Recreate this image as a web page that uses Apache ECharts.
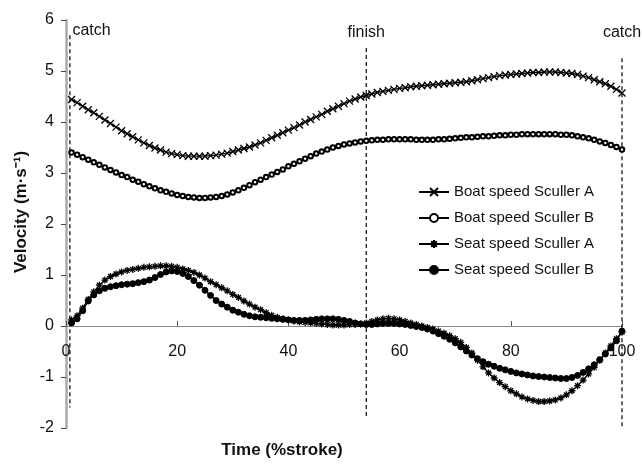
<!DOCTYPE html>
<html>
<head>
<meta charset="utf-8">
<script src="https://cdn.jsdelivr.net/npm/echarts@6/dist/echarts.min.js"></script>
<style>
  html, body { margin: 0; padding: 0; background: #fff; }
  #chart { width: 642px; height: 464px; }
</style>
</head>
<body>
<div id="chart"></div>
<script>
// % of stroke
const stroke = [
  1, 2, 3, 4, 5, 6, 7, 8, 9, 10, 11, 12, 13, 14, 15, 16, 17, 18, 19, 20,
  21, 22, 23, 24, 25, 26, 27, 28, 29, 30, 31, 32, 33, 34, 35, 36, 37, 38, 39, 40,
  41, 42, 43, 44, 45, 46, 47, 48, 49, 50, 51, 52, 53, 54, 55, 56, 57, 58, 59, 60,
  61, 62, 63, 64, 65, 66, 67, 68, 69, 70, 71, 72, 73, 74, 75, 76, 77, 78, 79, 80,
  81, 82, 83, 84, 85, 86, 87, 88, 89, 90, 91, 92, 93, 94, 95, 96, 97, 98, 99, 100
]

const boatA = [
  4.44, 4.38, 4.31, 4.24, 4.18, 4.11, 4.04, 3.97, 3.90, 3.83, 3.77, 3.71, 3.65, 3.59, 3.54, 3.49, 3.45, 3.41, 3.38, 3.36,
  3.34, 3.33, 3.33, 3.33, 3.33, 3.34, 3.35, 3.37, 3.39, 3.42, 3.45, 3.48, 3.51, 3.55, 3.59, 3.64, 3.69, 3.74, 3.79, 3.84,
  3.89, 3.94, 4.00, 4.05, 4.10, 4.15, 4.21, 4.26, 4.31, 4.36, 4.41, 4.45, 4.49, 4.52, 4.55, 4.58, 4.60, 4.62, 4.64, 4.66,
  4.67, 4.69, 4.70, 4.71, 4.72, 4.73, 4.74, 4.75, 4.76, 4.77, 4.78, 4.79, 4.81, 4.83, 4.85, 4.87, 4.89, 4.91, 4.92, 4.93,
  4.94, 4.95, 4.96, 4.97, 4.97, 4.98, 4.98, 4.98, 4.97, 4.96, 4.95, 4.93, 4.90, 4.87, 4.83, 4.79, 4.75, 4.70, 4.64, 4.57
]

const boatB = [
  3.40, 3.36, 3.31, 3.26, 3.21, 3.16, 3.11, 3.06, 3.01, 2.96, 2.92, 2.87, 2.83, 2.78, 2.74, 2.70, 2.66, 2.63, 2.60, 2.57,
  2.55, 2.53, 2.52, 2.51, 2.51, 2.52, 2.53, 2.55, 2.58, 2.62, 2.66, 2.71, 2.76, 2.82, 2.87, 2.92, 2.97, 3.02, 3.07, 3.13,
  3.18, 3.23, 3.28, 3.33, 3.38, 3.42, 3.46, 3.50, 3.53, 3.56, 3.58, 3.60, 3.62, 3.63, 3.64, 3.65, 3.65, 3.66, 3.66, 3.66,
  3.66, 3.66, 3.65, 3.65, 3.65, 3.65, 3.66, 3.66, 3.67, 3.68, 3.69, 3.70, 3.70, 3.71, 3.72, 3.72, 3.73, 3.74, 3.74, 3.75,
  3.75, 3.76, 3.76, 3.76, 3.76, 3.76, 3.76, 3.76, 3.75, 3.75, 3.74, 3.72, 3.70, 3.68, 3.65, 3.62, 3.59, 3.55, 3.51, 3.46
]

const seatA = [
  0.12, 0.20, 0.35, 0.52, 0.67, 0.80, 0.90, 0.97, 1.02, 1.06, 1.09, 1.11, 1.13, 1.15, 1.16, 1.17, 1.18, 1.18, 1.17, 1.15,
  1.12, 1.09, 1.05, 1.00, 0.94, 0.87, 0.81, 0.75, 0.69, 0.62, 0.56, 0.49, 0.43, 0.37, 0.32, 0.26, 0.21, 0.17, 0.14, 0.12,
  0.10, 0.08, 0.07, 0.06, 0.05, 0.04, 0.03, 0.02, 0.02, 0.02, 0.03, 0.03, 0.04, 0.06, 0.09, 0.12, 0.14, 0.15, 0.14, 0.12,
  0.09, 0.06, 0.03, 0.00, -0.03, -0.06, -0.10, -0.14, -0.19, -0.25, -0.32, -0.42, -0.53, -0.67, -0.80, -0.92, -1.02, -1.11, -1.19, -1.27,
  -1.33, -1.39, -1.43, -1.46, -1.48, -1.48, -1.47, -1.45, -1.41, -1.35, -1.27, -1.17, -1.06, -0.94, -0.81, -0.67, -0.53, -0.39, -0.25, -0.12
]

const seatB = [
  0.06, 0.14, 0.30, 0.49, 0.61, 0.69, 0.74, 0.77, 0.79, 0.81, 0.82, 0.83, 0.85, 0.87, 0.90, 0.95, 1.01, 1.06, 1.08, 1.07,
  1.03, 0.97, 0.89, 0.80, 0.70, 0.60, 0.50, 0.43, 0.37, 0.31, 0.27, 0.23, 0.20, 0.18, 0.17, 0.16, 0.15, 0.14, 0.13, 0.12,
  0.11, 0.11, 0.11, 0.12, 0.13, 0.14, 0.14, 0.14, 0.13, 0.11, 0.09, 0.06, 0.04, 0.03, 0.03, 0.04, 0.05, 0.05, 0.05, 0.04,
  0.03, 0.01, -0.01, -0.03, -0.06, -0.10, -0.15, -0.20, -0.26, -0.33, -0.41, -0.49, -0.57, -0.64, -0.70, -0.75, -0.79, -0.83, -0.86, -0.89,
  -0.92, -0.94, -0.96, -0.98, -0.99, -1.00, -1.01, -1.02, -1.03, -1.03, -1.01, -0.97, -0.91, -0.84, -0.76, -0.66, -0.55, -0.43, -0.29, -0.10
]

const seriesNames = ['Boat speed Sculler A', 'Boat speed Sculler B', 'Seat speed Sculler A', 'Seat speed Sculler B']

// stroke events (dashed markers)
const eventX = [0.7, 54, 100]
const eventNames = ['catch', 'finish', 'catch']
const eventTop = [5.7, 5.45, 5.25]
const eventBottom = [-1.6, -1.8, -2]

const xTicks = [0, 20, 40, 60, 80, 100]
const yTicks = [-2, -1, 0, 1, 2, 3, 4, 5, 6]

const FONT = '"Liberation Sans", Arial, Helvetica, sans-serif'

const crossSymbol = 'path://M0,0L10,10M10,0L0,10'
const starSymbol = 'path://M0,5L10,5M5,0L5,10M1.5,1.5L8.5,8.5M8.5,1.5L1.5,8.5'

const pair = (vals) => vals.map((v, i) => [stroke[i], v])

const makeSeries = (name, vals, symbol, size, border) => ({
  name,
  type: 'line',
  data: pair(vals),
  symbol,
  symbolSize: size,
  showAllSymbol: true,
  lineStyle: { color: '#000', width: 1.4 },
  itemStyle: { color: '#000', borderColor: '#000', borderWidth: border },
  z: 3
})

// label placement for catch / finish text
const eventLabel = [
  { position: [3, -12], align: 'left' },
  { position: 'top', distance: 7 },
  { position: 'top', distance: 17 }
]

const eventSeries = eventX.map((x, i) => ({
  type: 'line',
  silent: true,
  symbol: 'circle',
  symbolSize: 1,
  itemStyle: { color: 'rgba(0,0,0,0)' },
  data: [
    {
      value: [x, eventTop[i]],
      label: Object.assign({ show: true, formatter: eventNames[i], fontSize: 16, color: '#111', fontFamily: FONT }, eventLabel[i])
    },
    [x, eventBottom[i]]
  ],
  lineStyle: { color: '#000', width: 1.2, type: [4, 3] },
  z: 2
}))

const chart = echarts.init(document.getElementById('chart'))

const option = {
  animation: false,
  backgroundColor: '#fff',
  grid: [
    { left: 66, right: 20, top: 20, bottom: 36 },
    // upper grid only carries the x axis drawn along velocity 0
    { left: 66, right: 20, top: 20, height: 306 }
  ],
  legend: {
    data: seriesNames,
    orient: 'vertical',
    left: 413,
    top: 179,
    itemWidth: 30,
    itemHeight: 10,
    itemGap: 10,
    textStyle: { fontSize: 15, lineHeight: 16, color: '#111', fontFamily: FONT }
  },
  xAxis: [
    {
      type: 'value',
      gridIndex: 0,
      min: 0,
      max: 100,
      interval: 20,
      show: false
    },
    {
      type: 'value',
      gridIndex: 1,
      min: 0,
      max: 100,
      interval: 20,
      axisLine: { onZero: false, lineStyle: { color: '#888', width: 1 } },
      axisTick: { inside: true, length: 5, lineStyle: { color: '#555' } },
      axisLabel: { margin: 18, fontSize: 16, color: '#111', fontFamily: FONT,
        formatter: (v) => xTicks.includes(v) ? String(v) : '' },
      splitLine: { show: false }
    }
  ],
  yAxis: [
    {
      type: 'value',
      gridIndex: 0,
      min: -2,
      max: 6,
      interval: 1,
      axisLine: { show: true, lineStyle: { color: '#aaa', width: 2.5 } },
      axisTick: { show: true, length: 5, lineStyle: { color: '#444' } },
      axisLabel: { margin: 12, fontSize: 16, color: '#111', fontFamily: FONT,
        formatter: (v) => yTicks.includes(v) ? String(v) : '' },
      splitLine: { show: false }
    },
    {
      type: 'value',
      gridIndex: 1,
      min: 0,
      max: 6,
      show: false
    }
  ],
  graphic: [
    {
      type: 'text',
      x: 21,
      y: 212,
      rotation: Math.PI / 2,
      style: {
        text: 'Velocity (m·s⁻¹)',
        font: 'bold 17px ' + FONT,
        fill: '#111',
        align: 'center',
        verticalAlign: 'middle',
        textAlign: 'center',
        textVerticalAlign: 'middle'
      }
    },
    {
      type: 'text',
      x: 282,
      y: 450,
      style: {
        text: 'Time (%stroke)',
        font: 'bold 17px ' + FONT,
        fill: '#111',
        align: 'center',
        verticalAlign: 'middle',
        textAlign: 'center',
        textVerticalAlign: 'middle'
      }
    }
  ],
  series: [
    makeSeries(seriesNames[0], boatA, crossSymbol, 7, 1.3),
    makeSeries(seriesNames[1], boatB, 'emptyCircle', 4.5, 1),
    makeSeries(seriesNames[2], seatA, starSymbol, 7, 1.3),
    makeSeries(seriesNames[3], seatB, 'circle', 6, 1),
    ...eventSeries
  ]
}

chart.setOption(option)
</script>
</body>
</html>
